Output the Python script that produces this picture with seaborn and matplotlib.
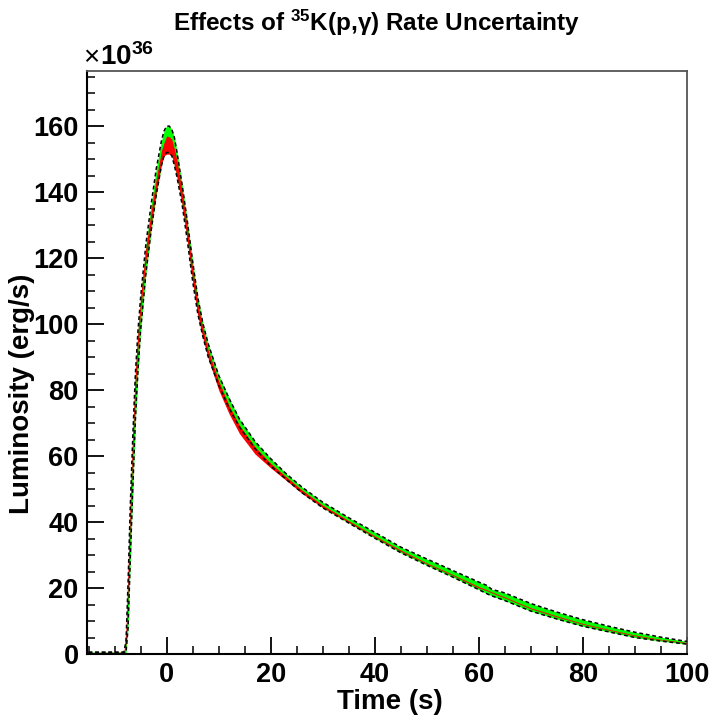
import matplotlib
matplotlib.use("Agg")
import matplotlib.pyplot as plt
import seaborn as sns
import pandas as pd

# ---- data ----
time_s = [-15, -8.2, -7.8, -7.4, -7.0, -6.5, -6.0, -5.5, -5.0, -4.0, -3.0, -2.0,
          -1.0, -0.5, 0.0, 0.5, 1.0, 1.5, 2.0, 3.0, 4.0, 5.0, 6.0, 7.0, 8.0, 10, 12,
          14, 17, 20, 23, 26, 30, 35, 40, 45, 50, 55, 60, 61.5, 62.5, 65, 70,
          75, 80, 85, 90, 95, 100]
green_lo = [0.4, 0.4, 0.5, 8, 28, 50, 71, 86, 98, 115, 128, 139,
            148, 151, 152, 152, 151, 148, 144.5, 136, 125, 113, 103, 96, 90, 81.5, 74.5,
            68.8, 62.2, 57, 52.9, 48.9, 44.3, 39.7, 35.1, 30.7, 26.9, 23.3, 19.5, 18.3, 17.6, 16.2, 13.0,
            10.6, 8.4, 6.7, 5.0, 3.9, 3.0]
green_hi = [0.6, 0.6, 4, 22, 44, 66, 85, 98, 108, 124, 136, 147,
            155.5, 158.5, 160, 160, 159, 156.5, 152, 142, 131, 119, 108, 100, 94, 84.5, 77.5,
            71.2, 64.4, 59.2, 54.6, 50.6, 46, 41.3, 36.9, 32.4, 28.8, 25.3, 21.8, 20.8, 19.6, 18.5, 15.3,
            12.7, 10.4, 8.4, 6.6, 5.1, 3.8]
red_lo = [0.5, 0.5, 3, 20, 40, 62, 80, 93, 104, 119, 130, 140,
          148.5, 151, 151.5, 151.5, 151, 148, 144.5, 136, 125, 113, 102.5, 95.5, 89.5, 80, 72.8,
          66.8, 60.6, 56.4, 52.6, 48.7, 44.4, 39.9, 35.4, 31.1, 27.3, 23.8, 20.0, 19.2, 18.5, 17.0, 13.7,
          11.25, 9.0, 7.2, 5.5, 4.25, 3.25]
red_hi = [0.5, 0.6, 8, 27, 47, 68, 86, 98, 108, 123, 134, 144,
          152.5, 155, 157, 156.8, 156, 153, 149.5, 140, 129, 117, 106, 98.5, 92, 82.8, 75.3,
          69.3, 62.8, 57.8, 53.7, 49.7, 45.1, 40.4, 35.8, 31.5, 27.6, 24.1, 20.4, 19.5, 18.8, 17.3, 14.0,
          11.55, 9.25, 7.45, 5.75, 4.45, 3.45]

x_ticks = [0, 20, 40, 60, 80, 100]
y_ticks = [0, 20, 40, 60, 80, 100, 120, 140, 160]

df = pd.DataFrame({"t": time_s, "glo": green_lo, "ghi": green_hi,
                   "rlo": red_lo, "rhi": red_hi})

sns.set_style("ticks")
plt.rcParams["font.family"] = ["Liberation Sans", "DejaVu Sans"]
plt.rcParams["font.weight"] = "bold"
plt.rcParams["text.color"] = "black"
plt.rcParams["axes.labelcolor"] = "black"
plt.rcParams["xtick.color"] = "black"
plt.rcParams["ytick.color"] = "black"
plt.rcParams["mathtext.fontset"] = "custom"
plt.rcParams["mathtext.rm"] = "Liberation Sans:bold"
plt.rcParams["mathtext.bf"] = "Liberation Sans:bold"
plt.rcParams["mathtext.it"] = "Liberation Sans:bold"
plt.rcParams["mathtext.default"] = "rm"

fig = plt.figure(figsize=(7.10, 7.21), dpi=100)
ax = fig.add_axes([87 / 710, 1 - 654 / 721, 600 / 710, 583 / 721])

ax.fill_between(df["t"], df["glo"], df["ghi"], color="#00ff00", lw=0, zorder=2)
ax.fill_between(df["t"], df["rlo"], df["rhi"], color="#ff0000", lw=0, zorder=3)

for col in ["glo", "ghi"]:
    sns.lineplot(data=df, x="t", y=col, ax=ax, color="black", lw=1.1,
                 dashes=False, zorder=4)
for line in ax.lines[-2:]:
    line.set_dashes((2.5, 1.8))

ax.set_xlim(-15.3, 100)
ax.set_ylim(0, 176.7)
ax.set_xticks(x_ticks)
ax.set_yticks(y_ticks)
ax.set_xticks([v for v in range(-15, 101, 5) if v not in x_ticks], minor=True)
ax.set_yticks([v for v in range(5, 176, 5) if v not in y_ticks], minor=True)
ax.set_xticklabels([str(v) for v in x_ticks], fontsize=19.5, fontweight="bold",
                   color="black")
ax.set_yticklabels([str(v) for v in y_ticks], fontsize=19.5, fontweight="bold",
                   color="black")
ax.tick_params(which="major", direction="in", length=12.5, width=1.3, pad=6.0,
               top=False, right=False, color="black")
ax.tick_params(which="minor", direction="in", length=6, width=1.1,
               top=False, right=False, color="black")

for s in ["left", "bottom"]:
    ax.spines[s].set_color("black")
    ax.spines[s].set_linewidth(1.5)
for s in ["top", "right"]:
    ax.spines[s].set_visible(True)
    ax.spines[s].set_color("#555555")
    ax.spines[s].set_linewidth(1.3)

ax.set_xlabel("Time (s)", fontsize=20, fontweight="bold", color="black")
ax.set_ylabel("Luminosity (erg/s)", fontsize=20, fontweight="bold", color="black")
ax.xaxis.set_label_coords(0.505, -0.060)
ax.yaxis.set_label_coords(-0.087, 0.446)

fig.text(377 / 710, 1 - 31 / 721, r"Effects of $^{35}$K(p,γ) Rate Uncertainty",
         ha="center", va="baseline", fontsize=17.5, fontweight="bold", color="black")
fig.text(83 / 710, 1 - 65 / 721, "×", ha="left", va="baseline",
         fontsize=20, fontweight="normal", color="black")
fig.text(100 / 710, 1 - 65 / 721, r"10$^{36}$", ha="left", va="baseline",
         fontsize=20, fontweight="bold", color="black")

fig.savefig("out.png", dpi=100, facecolor="white")
